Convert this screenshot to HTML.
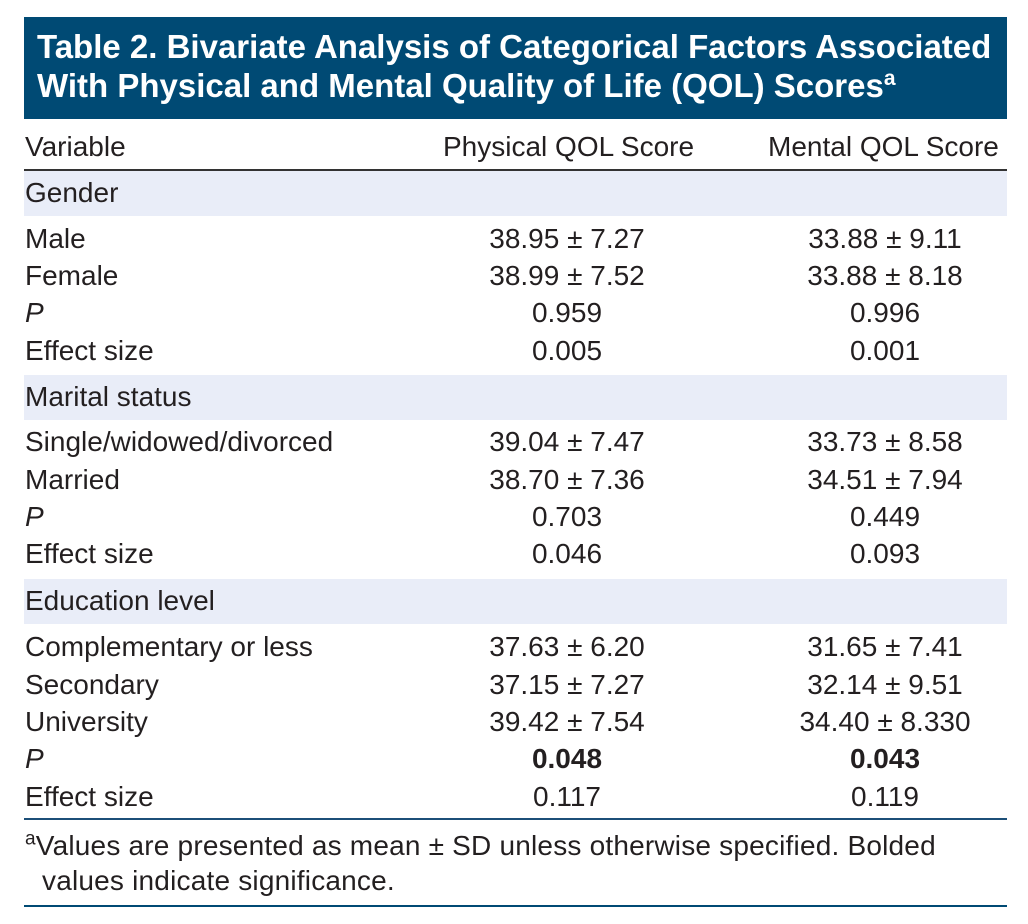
<!DOCTYPE html>
<html><head><style>
body{margin:0;width:1028px;height:924px;background:#fff;position:relative;font-family:"Liberation Sans",sans-serif;color:#231f20;overflow:hidden}
.t{position:absolute;font-size:28px;line-height:30px;white-space:nowrap;letter-spacing:0px}
.c1{left:25px}
.c2{left:467px;width:200px;text-align:center}
.c3{left:785px;width:200px;text-align:center}
.band{position:absolute;left:24px;width:983px;height:45px;background:#e9edf8}
.title{position:absolute;left:24px;top:17px;width:983px;height:102px;background:#004a74;color:#fff;font-weight:bold;font-size:33px;line-height:39px;padding:10px 0 0 13px;box-sizing:border-box;letter-spacing:0px;white-space:nowrap;overflow:hidden}
.ln{position:absolute;left:24px;width:983px}
</style></head><body>
<div class="title">Table 2. Bivariate Analysis of Categorical Factors Associated<br>With Physical and Mental Quality of Life (QOL) Scores<sup style="font-size:21px;line-height:0">a</sup></div>
<div class="t c1" style="top:132px">Variable</div>
<div class="t" style="left:443px;top:132px">Physical QOL Score</div>
<div class="t" style="left:768px;top:132px">Mental QOL Score</div>
<div class="ln" style="top:169px;height:2px;background:#333"></div>
<div class="band" style="top:171px"></div>
<div class="band" style="top:375px"></div>
<div class="band" style="top:579px"></div>
<div class="t c1" style="top:178px">Gender</div>
<div class="t c1" style="top:224px">Male</div><div class="t c2" style="top:224px">38.95 ± 7.27</div><div class="t c3" style="top:224px">33.88 ± 9.11</div>
<div class="t c1" style="top:261px">Female</div><div class="t c2" style="top:261px">38.99 ± 7.52</div><div class="t c3" style="top:261px">33.88 ± 8.18</div>
<div class="t c1" style="top:298px"><i>P</i></div><div class="t c2" style="top:298px">0.959</div><div class="t c3" style="top:298px">0.996</div>
<div class="t c1" style="top:336px">Effect size</div><div class="t c2" style="top:336px">0.005</div><div class="t c3" style="top:336px">0.001</div>
<div class="t c1" style="top:382px">Marital status</div>
<div class="t c1" style="top:427px">Single/widowed/divorced</div><div class="t c2" style="top:427px">39.04 ± 7.47</div><div class="t c3" style="top:427px">33.73 ± 8.58</div>
<div class="t c1" style="top:465px">Married</div><div class="t c2" style="top:465px">38.70 ± 7.36</div><div class="t c3" style="top:465px">34.51 ± 7.94</div>
<div class="t c1" style="top:502px"><i>P</i></div><div class="t c2" style="top:502px">0.703</div><div class="t c3" style="top:502px">0.449</div>
<div class="t c1" style="top:539px">Effect size</div><div class="t c2" style="top:539px">0.046</div><div class="t c3" style="top:539px">0.093</div>
<div class="t c1" style="top:586px">Education level</div>
<div class="t c1" style="top:632px">Complementary or less</div><div class="t c2" style="top:632px">37.63 ± 6.20</div><div class="t c3" style="top:632px">31.65 ± 7.41</div>
<div class="t c1" style="top:670px">Secondary</div><div class="t c2" style="top:670px">37.15 ± 7.27</div><div class="t c3" style="top:670px">32.14 ± 9.51</div>
<div class="t c1" style="top:707px">University</div><div class="t c2" style="top:707px">39.42 ± 7.54</div><div class="t c3" style="top:707px">34.40 ± 8.330</div>
<div class="t c1" style="top:744px"><i>P</i></div><div class="t c2" style="top:744px"><b>0.048</b></div><div class="t c3" style="top:744px"><b>0.043</b></div>
<div class="t c1" style="top:782px">Effect size</div><div class="t c2" style="top:782px">0.117</div><div class="t c3" style="top:782px">0.119</div>
<div class="ln" style="top:818px;height:2px;background:#1c4f78"></div>
<div class="t c1" style="top:831px;letter-spacing:0.2px"><sup style="font-size:19px;line-height:0">a</sup>Values are presented as mean ± SD unless otherwise specified. Bolded</div>
<div class="t" style="left:42px;top:866px;letter-spacing:0.2px">values indicate significance.</div>
<div class="ln" style="top:905px;height:2px;background:#004a74"></div>
</body></html>
